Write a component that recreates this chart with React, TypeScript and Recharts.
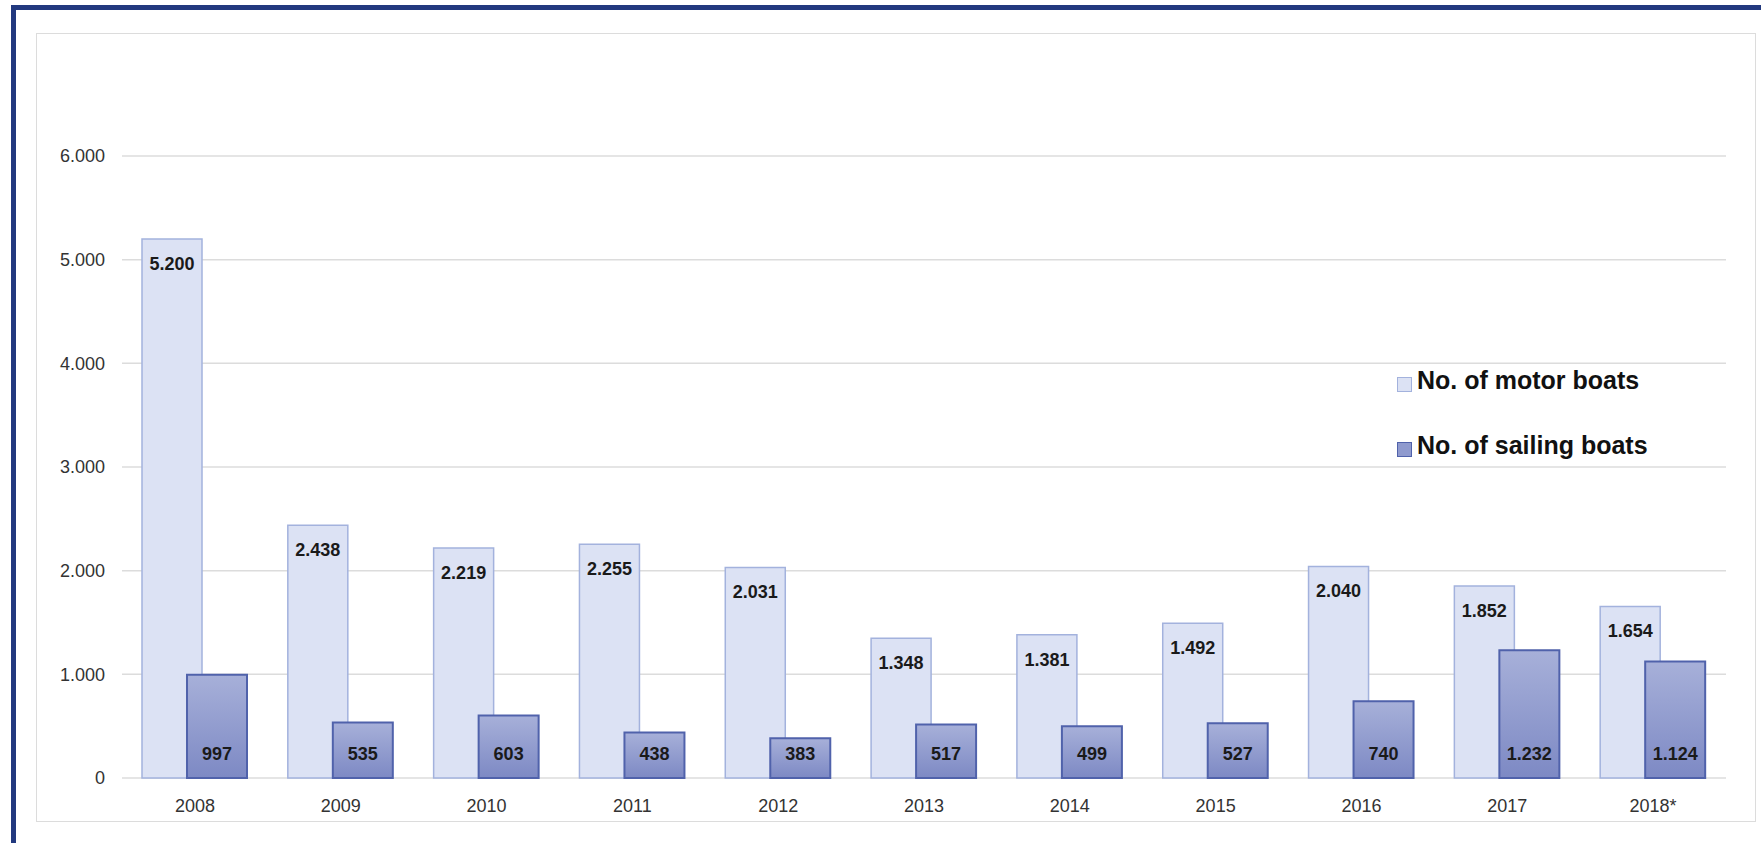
import React from "react"
import { BarChart, Bar, XAxis, YAxis, CartesianGrid, LabelList } from "recharts"

const years = ["2008", "2009", "2010", "2011", "2012", "2013", "2014", "2015", "2016", "2017", "2018*"]
const motorBoats = [5200, 2438, 2219, 2255, 2031, 1348, 1381, 1492, 2040, 1852, 1654]
const sailingBoats = [997, 535, 603, 438, 383, 517, 499, 527, 740, 1232, 1124]
const yTicks = [0, 1000, 2000, 3000, 4000, 5000, 6000]

const data = years.map((year, i) => ({ year, motor: motorBoats[i], sailing: sailingBoats[i] }))

// dot as thousands separator, like the source
const fmt = (v: number) => String(v).replace(/\B(?=(\d{3})+(?!\d))/g, ".")

const FONT = "'Liberation Sans', Arial, Helvetica, sans-serif"

function LegendBox() {
  const items = [
    { label: "No. of motor boats", fill: "#dce2f4", stroke: "#a3b2dd" },
    { label: "No. of sailing boats", fill: "#8f9ace", stroke: "#5062ab" },
  ]
  return (
    <div style={{ fontFamily: FONT }}>
      {items.map((it) => (
        <div key={it.label} style={{ display: "flex", alignItems: "center", height: 65 }}>
          <span
            style={{
              display: "inline-block",
              width: 13,
              height: 13,
              background: it.fill,
              border: `1.5px solid ${it.stroke}`,
              marginRight: 5,
              marginTop: 7,
            }}
          />
          <span style={{ fontSize: 25, fontWeight: 700, color: "#111" }}>{it.label}</span>
        </div>
      ))}
    </div>
  )
}

export default function App() {
  return (
    <div style={{ position: "relative", width: 1761, height: 843, overflow: "hidden", background: "#fff" }}>
      <style>{`body{margin:0;overflow:hidden}`}</style>
      <div
        style={{
          position: "absolute",
          left: 11,
          top: 5,
          width: 1800,
          height: 900,
          border: "5px solid #22397f",
          boxSizing: "border-box",
        }}
      />
      <div
        style={{
          position: "absolute",
          left: 36,
          top: 33,
          width: 1720,
          height: 789,
          border: "1.5px solid #dcdcdc",
          boxSizing: "border-box",
        }}
      />
      <div style={{ position: "absolute", left: 36, top: 33 }}>
        <BarChart
          width={1720}
          height={789}
          data={data}
          margin={{ top: 123, right: 30, left: 0, bottom: 0 }}
          barSize={60}
          barGap={-15}
        >
          <defs>
            <linearGradient id="sailGrad" x1="0" y1="0" x2="0" y2="1">
              <stop offset="0%" stopColor="#a7b0d9" />
              <stop offset="100%" stopColor="#7d89c4" />
            </linearGradient>
          </defs>
          <CartesianGrid vertical={false} stroke="#dcdcdc" strokeWidth={1.5} />
          <XAxis
            dataKey="year"
            axisLine={false}
            tickLine={false}
            tickSize={0}
            tickMargin={21}
            height={44}
            tick={{ fontSize: 18, fill: "#333", fontFamily: FONT }}
          />
          <YAxis
            domain={[0, 6000]}
            ticks={yTicks}
            axisLine={false}
            tickLine={false}
            tickSize={0}
            tickMargin={17}
            width={86}
            tickFormatter={fmt}
            tick={{ fontSize: 18, fill: "#333", fontFamily: FONT }}
          />
          <Bar dataKey="motor" fill="#dce2f4" stroke="#a3b2dd" strokeWidth={1.5} isAnimationActive={false}>
            <LabelList
              dataKey="motor"
              position="insideTop"
              offset={18}
              formatter={(v: any) => fmt(Number(v))}
              style={{ fontSize: 18, fontWeight: 700, fill: "#1a1a1a", fontFamily: FONT }}
            />
          </Bar>
          <Bar dataKey="sailing" fill="url(#sailGrad)" stroke="#5062ab" strokeWidth={2} isAnimationActive={false}>
            <LabelList
              dataKey="sailing"
              position="insideBottom"
              offset={18}
              formatter={(v: any) => fmt(Number(v))}
              style={{ fontSize: 18, fontWeight: 700, fill: "#1a1a1a", fontFamily: FONT }}
            />
          </Bar>
        </BarChart>
      </div>
      <div style={{ position: "absolute", left: 1397, top: 348 }}>
        <LegendBox />
      </div>
    </div>
  )
}
